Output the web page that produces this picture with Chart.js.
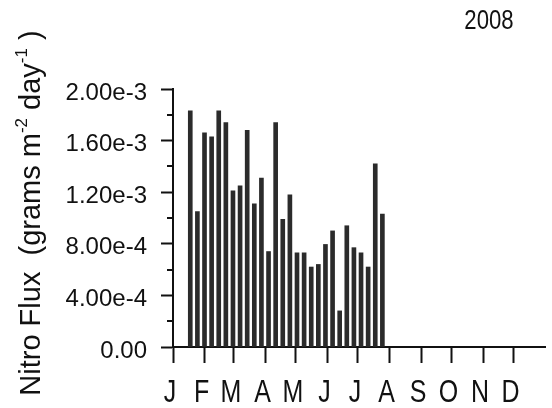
<!DOCTYPE html>
<html lang="en">
<head>
<meta charset="UTF-8">
<title>Nitro Flux 2008</title>
<script src="https://cdn.jsdelivr.net/npm/chart.js"></script>
<style>
  html, body { margin: 0; padding: 0; background: #fff; }
  #wrap { width: 552px; height: 408px; position: relative; }
</style>
</head>
<body>
<div id="wrap"><canvas id="fluxChart"></canvas></div>
<script>
// weekly samples, day of year (0 = Jan 1 2008)
const SAMPLE_DAYS = [17, 24, 31, 38, 45, 52, 59, 66, 73, 80, 87, 94, 101, 108,
                     115, 122, 129, 136, 143, 150, 157, 164, 171, 178, 185, 192, 199, 206];
const FLUX = [1.83e-3, 1.05e-3, 1.66e-3, 1.63e-3, 1.83e-3, 1.74e-3, 1.21e-3, 1.25e-3,
              1.68e-3, 1.11e-3, 1.31e-3, 7.4e-4, 1.74e-3, 9.9e-4, 1.18e-3, 7.3e-4,
              7.3e-4, 6.2e-4, 6.4e-4, 7.95e-4, 9.0e-4, 2.8e-4, 9.4e-4, 7.7e-4,
              7.3e-4, 6.2e-4, 1.42e-3, 1.03e-3];
const MONTH_STARTS = [0, 31, 60, 91, 121, 152, 182, 213, 244, 274, 305, 335];
const MONTH_LABELS = ['J', 'F', 'M', 'A', 'M', 'J', 'J', 'A', 'S', 'O', 'N', 'D'];
const Y_TICKS = [0, 4e-4, 8e-4, 1.2e-3, 1.6e-3, 2e-3];
const Y_LABELS = ['0.00', '4.00e-4', '8.00e-4', '1.20e-3', '1.60e-3', '2.00e-3'];
const YEAR = '2008';

const INK = '#111';
Chart.defaults.font.family = '"Liberation Sans", Arial, sans-serif';
Chart.defaults.color = INK;

// draw text squeezed horizontally (the original uses a narrow face)
function narrowText(ctx, text, x, y, font, sx) {
    ctx.save();
    ctx.font = font;
    ctx.translate(x, y);
    ctx.scale(sx, 1);
    ctx.textAlign = 'center';
    ctx.textBaseline = 'alphabetic';
    ctx.fillText(text, 0, 0);
    ctx.restore();
}

const decorations = {
    id: 'decorations',
    afterDraw(chart) {
        const ctx = chart.ctx;
        const xs = chart.scales.x, ys = chart.scales.y;
        const left = chart.chartArea.left;
        ctx.save();
        ctx.fillStyle = INK;
        ctx.strokeStyle = INK;
        ctx.lineWidth = 2;

        // minor ticks between the labelled ones
        for (let i = 0; i < Y_TICKS.length - 1; i++) {
            const py = Math.round(ys.getPixelForValue((Y_TICKS[i] + Y_TICKS[i + 1]) / 2));
            ctx.beginPath();
            ctx.moveTo(left - 6, py);
            ctx.lineTo(left, py);
            ctx.stroke();
        }

        // month letters
        MONTH_STARTS.forEach((d, i) => {
            narrowText(ctx, MONTH_LABELS[i], xs.getPixelForValue(d) - 3, xs.top + 55,
                       '32px "Liberation Sans"', 0.78);
        });

        // year, top right
        narrowText(ctx, YEAR, 489, 29, '27px "Liberation Sans"', 0.82);

        // y title with superscripts
        const big = '29px "Liberation Sans"', small = '17px "Liberation Sans"';
        const parts = [['Nitro Flux  (grams m', 0], ['-2', 1], [' day', 0], ['-1', 1], [' )', 0]];
        ctx.translate(40, 213);
        ctx.rotate(-Math.PI / 2);
        ctx.textAlign = 'left';
        ctx.textBaseline = 'alphabetic';
        let total = 0;
        parts.forEach(p => { ctx.font = p[1] ? small : big; total += ctx.measureText(p[0]).width; });
        let cx = -total / 2;
        parts.forEach(p => {
            ctx.font = p[1] ? small : big;
            ctx.fillText(p[0], cx, p[1] ? -13 : 0);
            cx += ctx.measureText(p[0]).width;
        });
        ctx.restore();
    }
};

new Chart(document.getElementById('fluxChart'), {
    type: 'bar',
    data: {
        datasets: [{
            data: SAMPLE_DAYS.map((d, i) => ({ x: d, y: FLUX[i] })),
            backgroundColor: '#2b2b2b',
            barThickness: 4
        }]
    },
    options: {
        responsive: true,
        maintainAspectRatio: false,
        animation: false,
        layout: { padding: { top: 89, right: 7, left: 0, bottom: 0 } },
        plugins: { legend: { display: false }, tooltip: { enabled: false } },
        scales: {
            x: {
                type: 'linear',
                min: 0,
                max: 366,
                offset: false,
                afterBuildTicks: s => { s.ticks = MONTH_STARTS.map(v => ({ value: v })); },
                afterFit: s => { s.height = 61; },
                grid: { offset: false, drawOnChartArea: false, tickLength: 16, tickWidth: 2, tickColor: INK },
                border: { color: INK, width: 2 },
                ticks: {
                    autoSkip: false,
                    maxRotation: 0,
                    color: 'rgba(0,0,0,0)',
                    font: { size: 20 },
                    callback: (v, i) => MONTH_LABELS[i]
                }
            },
            y: {
                min: 0,
                max: 2e-3,
                afterBuildTicks: s => { s.ticks = Y_TICKS.map(v => ({ value: v })); },
                afterFit: s => { s.width = 173; },
                grid: { drawOnChartArea: false, tickLength: 12, tickWidth: 2, tickColor: INK },
                border: { color: INK, width: 2 },
                ticks: {
                    padding: 14,
                    labelOffset: 4,
                    color: INK,
                    font: { size: 24 },
                    callback: (v, i) => Y_LABELS[i]
                }
            }
        }
    },
    plugins: [decorations]
});
</script>
</body>
</html>
